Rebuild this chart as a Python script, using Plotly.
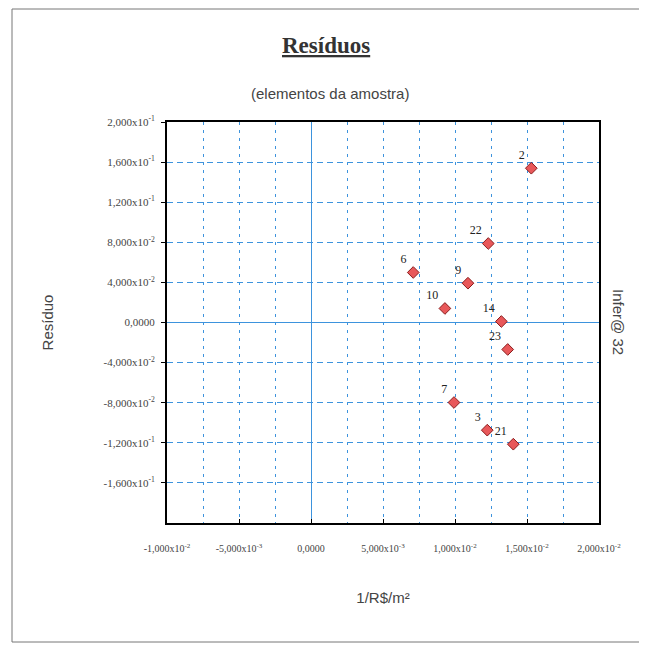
import plotly.graph_objects as go

# data
labels = ["2", "22", "6", "9", "10", "14", "23", "7", "3", "21"]
x_vals = [0.0153, 0.01231, 0.0071, 0.0109, 0.0093, 0.01322, 0.01366, 0.00993, 0.01224, 0.01405]
y_vals = [0.1539, 0.0788, 0.0499, 0.0392, 0.0140, 0.0010, -0.0269, -0.0798, -0.1074, -0.1214]

y_tickvals = [0.2, 0.16, 0.12, 0.08, 0.04, 0.0, -0.04, -0.08, -0.12, -0.16]
y_ticktext = ["2,000x10<sup>-1</sup>", "1,600x10<sup>-1</sup>", "1,200x10<sup>-1</sup>",
              "8,000x10<sup>-2</sup>", "4,000x10<sup>-2</sup>", "0,0000",
              "-4,000x10<sup>-2</sup>", "-8,000x10<sup>-2</sup>", "-1,200x10<sup>-1</sup>",
              "-1,600x10<sup>-1</sup>"]
x_tickvals = [-0.01, -0.005, 0.0, 0.005, 0.01, 0.015, 0.02]
x_ticktext = ["-1,000x10<sup>-2</sup>", "-5,000x10<sup>-3</sup>", "0,0000",
              "5,000x10<sup>-3</sup>", "1,000x10<sup>-2</sup>", "1,500x10<sup>-2</sup>",
              "2,000x10<sup>-2</sup>"]

grid_col = "#3d93dd"

# page body has an 8px margin, so the figure is offset by (8, 8)
OFF = 8
PL, PR, PT, PB = 167, 599, 122, 523  # plot area in window pixels
W, H = 647 - OFF, 650 - OFF


def px(xw):
    return (xw - PL) / (PR - PL)


def py(yw):
    return (PB - yw) / (PB - PT)


fig = go.Figure()
fig.add_trace(go.Scatter(
    x=x_vals, y=y_vals, mode="markers+text", text=labels,
    textposition="top left",
    textfont=dict(family="Liberation Serif", size=12, color="#222"),
    marker=dict(symbol="diamond", size=9, color="#e8585a",
                line=dict(color="#8a1c1c", width=1)),
    hoverinfo="skip", showlegend=False,
))

fig.update_layout(
    width=W, height=H,
    margin=dict(l=PL - OFF, r=W + OFF - PR, t=PT - OFF, b=H + OFF - PB, autoexpand=False),
    paper_bgcolor="white", plot_bgcolor="white",
    font=dict(family="Liberation Sans", color="#333"),
    annotations=[
        dict(text="<b><u>Resíduos</u></b>", xref="paper", yref="paper",
             x=px(326), y=py(45), showarrow=False,
             font=dict(family="Liberation Serif", size=23, color="#333"),
             xanchor="center", yanchor="middle"),
        dict(text="(elementos da amostra)", xref="paper", yref="paper",
             x=px(330), y=py(94), showarrow=False,
             font=dict(family="Liberation Sans", size=15, color="#444"),
             xanchor="center", yanchor="middle"),
        dict(text="Infer@ 32", xref="paper", yref="paper",
             x=px(619), y=py(322), showarrow=False,
             textangle=90,
             font=dict(family="Liberation Sans", size=15, color="#444"),
             xanchor="center", yanchor="middle"),
    ],
    shapes=[
        dict(type="rect", xref="paper", yref="paper",
             x0=px(12), x1=px(670), y0=py(642), y1=py(9),
             line=dict(color="#777", width=1), layer="below"),
    ],
)

fig.update_xaxes(
    range=[-0.01, 0.02], tickvals=x_tickvals, ticktext=x_ticktext,
    tickfont=dict(family="Liberation Serif", size=10, color="#444"),
    ticks="inside", ticklen=4, tickcolor="black",
    showline=True, linecolor="black", linewidth=2, mirror=True,
    showgrid=True, gridcolor=grid_col, griddash="3px,5px", gridwidth=1,
    minor=dict(dtick=0.0025, tick0=0, showgrid=True, gridcolor=grid_col,
               griddash="3px,5px", gridwidth=1),
    zeroline=True, zerolinecolor=grid_col, zerolinewidth=1,
    ticklabelstandoff=15, automargin=False,
    title=dict(text="1/R$/m²", font=dict(family="Liberation Sans", size=15, color="#444"), standoff=39),
)
fig.update_yaxes(
    range=[-0.2, 0.2], tickvals=y_tickvals, ticktext=y_ticktext,
    tickfont=dict(family="Liberation Serif", size=11, color="#444"),
    ticks="outside", ticklen=4, tickcolor="black",
    showline=True, linecolor="black", linewidth=2, mirror=True,
    showgrid=True, gridcolor=grid_col, griddash="6px,4px", gridwidth=1,
    zeroline=True, zerolinecolor=grid_col, zerolinewidth=1,
    ticklabelstandoff=4, automargin=False,
    title=dict(text="Resíduo", font=dict(family="Liberation Sans", size=15, color="#444"), standoff=46),
)

fig.write_html("out.html")
